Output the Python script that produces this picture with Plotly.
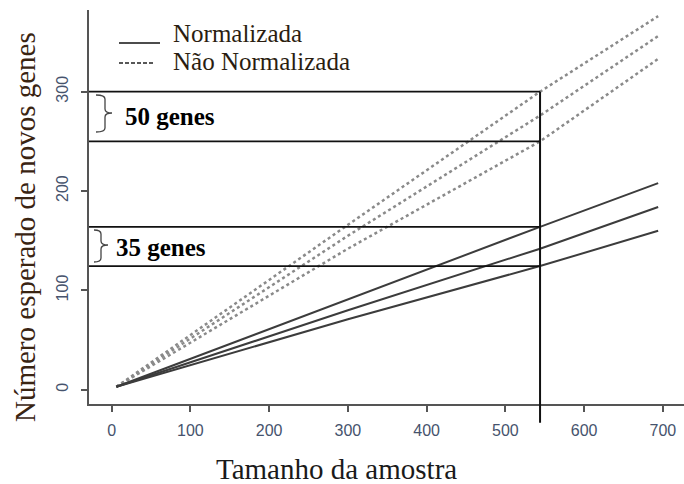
import plotly.graph_objects as go

# ---------------- data ----------------
x_pts = [6, 300, 544, 694]
norm_hi = [3, 91, 164, 208]
norm_mid = [3, 80, 142, 184]
norm_lo = [3, 71, 124.5, 160]
nonnorm_hi = [3, 166, 300, 376]
nonnorm_mid = [3, 155, 276, 356]
nonnorm_lo = [3, 142, 250, 333]

x_ticks = [0, 100, 200, 300, 400, 500, 600, 700]
y_ticks = [0, 100, 200, 300]

cut_x = 544
band_nonnorm = [250, 300]
band_norm = [124.5, 164]

legend_labels = ["Normalizada", "Não Normalizada"]
band_labels = ["50 genes", "35 genes"]
x_title = "Tamanho da amostra"
y_title = "Número esperado de novos genes"

# ---------------- layout geometry ----------------
W, H = 684, 484
ML, MR, MT, MB = 89, 0, 10, 80
PW, PH = W - ML - MR, H - MT - MB
XR = [-28.8, 726.8]
YR = [-14.3, 382.2]


def ppx(px):
    return (px - ML) / PW


def ppy(py):
    return (H - MB - py) / PH


def ypaper(v):
    return (v - YR[0]) / (YR[1] - YR[0])


fig = go.Figure()

solid_style = dict(color="#3c3c3c", width=2)
dot_style = dict(color="#8a8a8a", width=2.5, dash="3px,3px")

for ys in (nonnorm_hi, nonnorm_mid, nonnorm_lo):
    fig.add_trace(go.Scatter(x=x_pts, y=ys, mode="lines", line=dot_style,
                             showlegend=False, hoverinfo="skip"))
for ys in (norm_hi, norm_mid, norm_lo):
    fig.add_trace(go.Scatter(x=x_pts, y=ys, mode="lines", line=solid_style,
                             showlegend=False, hoverinfo="skip"))

shapes = []
# horizontal reference lines
for v in band_nonnorm + band_norm:
    shapes.append(dict(type="line", xref="x", yref="y", x0=XR[0], x1=cut_x,
                       y0=v, y1=v, line=dict(color="#111", width=1.8)))
# vertical cut line (extends below the axis)
shapes.append(dict(type="line", xref="x", yref="paper", x0=cut_x, x1=cut_x,
                   y0=ppy(422.7), y1=ypaper(max(band_nonnorm)),
                   line=dict(color="#111", width=2)))


def brace(x_end, x_body, x_tip, y_top, y_bot, y_tip):
    r = 4
    xe, xb, xt = ppx(x_end), ppx(x_body), ppx(x_tip)
    yt, yb, ym = ppy(y_top), ppy(y_bot), ppy(y_tip)
    dy = r / PH
    path = (f"M {xe},{yt} Q {xb},{yt} {xb},{yt - dy} "
            f"L {xb},{ym + dy} Q {xb},{ym} {xt},{ym} "
            f"Q {xb},{ym} {xb},{ym - dy} "
            f"L {xb},{yb + dy} Q {xb},{yb} {xe},{yb}")
    return dict(type="path", xref="paper", yref="paper", path=path,
                line=dict(color="#444", width=1.3))


shapes.append(brace(96, 105, 112, 95, 132, 113))
shapes.append(brace(94, 101, 108, 230, 262, 245))

# legend samples
shapes.append(dict(type="line", xref="paper", yref="paper",
                   x0=ppx(119), x1=ppx(160), y0=ppy(43), y1=ppy(43),
                   line=dict(color="#111", width=1.5)))
shapes.append(dict(type="line", xref="paper", yref="paper",
                   x0=ppx(119), x1=ppx(155), y0=ppy(63), y1=ppy(63),
                   line=dict(color="#222", width=1.3, dash="4px,2px")))

annotations = [
    dict(text=legend_labels[0], xref="paper", yref="paper", x=ppx(171), y=ppy(33),
         xanchor="left", yanchor="middle", showarrow=False,
         font=dict(family="Liberation Serif", size=25, color="#2b1d10")),
    dict(text=legend_labels[1], xref="paper", yref="paper", x=ppx(171), y=ppy(61),
         xanchor="left", yanchor="middle", showarrow=False,
         font=dict(family="Liberation Serif", size=25, color="#2b1d10")),
    dict(text="<b>" + band_labels[0] + "</b>", xref="paper", yref="paper",
         x=ppx(123), y=ppy(116), xanchor="left", yanchor="middle", showarrow=False,
         font=dict(family="Liberation Serif", size=25, color="#000")),
    dict(text="<b>" + band_labels[1] + "</b>", xref="paper", yref="paper",
         x=ppx(114), y=ppy(248), xanchor="left", yanchor="middle", showarrow=False,
         font=dict(family="Liberation Serif", size=25, color="#000")),
    dict(text=x_title, xref="paper", yref="paper", x=ppx(336), y=ppy(469),
         xanchor="center", yanchor="middle", showarrow=False,
         font=dict(family="Liberation Serif", size=29, color="#1a1a1a")),
    dict(text=y_title, xref="paper", yref="paper", x=ppx(25), y=ppy(227),
         xanchor="center", yanchor="middle", showarrow=False, textangle=-90,
         font=dict(family="Liberation Serif", size=29, color="#3a2412")),
]

tickfont = dict(family="Liberation Sans", size=16, color="#46536d")

fig.update_layout(
    width=W, height=H, autosize=False,
    margin=dict(l=ML, r=MR, t=MT, b=MB, pad=0),
    paper_bgcolor="white", plot_bgcolor="white",
    shapes=shapes, annotations=annotations, showlegend=False,
    xaxis=dict(range=XR, tickvals=x_ticks, ticks="outside", ticklen=6,
               tickwidth=1.5, tickcolor="#555", showline=True, linecolor="#555",
               linewidth=1.5, showgrid=False, zeroline=False, tickfont=tickfont,
               ticklabelstandoff=5),
    yaxis=dict(range=YR, tickvals=y_ticks, ticks="outside", ticklen=6,
               tickwidth=1.5, tickcolor="#555", showline=True, linecolor="#555",
               linewidth=1.5, showgrid=False, zeroline=False, tickfont=tickfont,
               tickangle=-90, ticklabelstandoff=7),
)

fig.write_html("out.html")
